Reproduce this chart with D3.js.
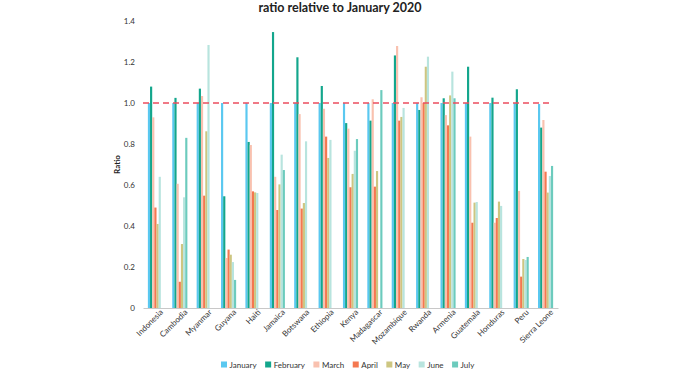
<!DOCTYPE html>
<html>
<head>
<meta charset="utf-8">
<script src="https://cdn.jsdelivr.net/npm/d3@7"></script>
<style>
  body { margin: 0; background: #fff; }
  text { font-family: Lato, "Open Sans", sans-serif; }
</style>
</head>
<body>
<div id="chart"></div>
<script>
// countries along the x axis
const countries = ["Indonesia", "Cambodia", "Myanmar", "Guyana", "Haiti", "Jamaica", "Botswana",
  "Ethiopia", "Kenya", "Madagascar", "Mozambique", "Rwanda", "Armenia", "Guatemala",
  "Honduras", "Peru", "Sierra Leone"];
const months = ["January", "February", "March", "April", "May", "June", "July"];
const monthColors = ["#5ac8f0", "#13a68c", "#f9c1af", "#f47850", "#cdc681", "#b8e4de", "#6ccbbd"];

// ratio to January, one array per month (null = no bar)
const january  = [1.0, 1.0, 1.0, 1.0, 1.0, 1.0, 1.0, 1.0, 1.0, 1.0, 1.0, 1.0, 1.0, 1.0, 1.0, 1.0, 0.995];
const february = [1.08, 1.025, 1.07, 0.545, 0.81, 1.346, 1.223, 1.083, 0.902, 0.914, 1.232, 0.966, 1.023, 1.177, 1.026, 1.067, 0.88];
const march    = [0.93, 0.606, 1.034, 0.244, 0.795, 0.64, 0.946, 0.972, 0.875, 1.018, 1.278, 1.028, 0.941, 0.836, 0.416, 0.571, 0.917];
const april    = [0.49, 0.128, 0.548, 0.285, 0.569, 0.478, 0.485, 0.836, 0.589, 0.592, 0.914, 1.0, 0.891, 0.416, 0.439, 0.153, 0.665];
const may      = [0.41, 0.312, 0.862, 0.26, 0.564, 0.603, 0.512, 0.732, 0.654, 0.668, 0.932, 1.177, 1.037, 0.514, 0.519, 0.239, 0.563];
const june     = [0.64, 0.54, 1.283, 0.224, 0.561, 0.748, 0.813, 0.82, 0.767, null, 0.976, 1.226, 1.153, 0.517, 0.498, 0.234, 0.644];
const july     = [null, 0.83, null, 0.137, null, 0.673, null, null, 0.824, 1.063, null, null, 1.023, null, null, 0.249, 0.693];
const series = [january, february, march, april, may, june, july];

const yTicks = [0, 0.2, 0.4, 0.6, 0.8, 1.0, 1.2, 1.4];

const width = 675, height = 375;
const margin = { top: 21, right: 117, bottom: 67, left: 143 };

const svg = d3.select("#chart").append("svg")
  .attr("width", width).attr("height", height);

const x = d3.scaleBand().domain(countries)
  .range([margin.left, width - margin.right])
  .paddingInner(0.38).paddingOuter(0.2);
const xm = d3.scaleBand().domain(months).range([0, x.bandwidth()]);
const y = d3.scaleLinear().domain([0, 1.4]).range([height - margin.bottom, margin.top]);

// title (sits right at the top edge, as in the source)
svg.append("text")
  .attr("x", 340).attr("y", 12)
  .attr("text-anchor", "middle")
  .style("font-size", "12.5px").style("font-weight", "bold").style("fill", "#222")
  .text("ratio relative to January 2020");

// y axis
const yAxis = svg.append("g")
  .attr("transform", `translate(${margin.left},0)`)
  .call(d3.axisLeft(y).tickValues(yTicks).tickSize(0).tickPadding(8)
    .tickFormat(d => d === 0 ? "0" : d3.format(".1f")(d)));
yAxis.select(".domain").remove();
yAxis.selectAll("text").style("font-size", "8px").style("fill", "#333")
  .style("font-family", "Lato, sans-serif");

svg.append("text")
  .attr("transform", `translate(120,${y(0.7)}) rotate(-90)`)
  .attr("text-anchor", "middle")
  .style("font-size", "8px").style("font-weight", "bold").style("fill", "#222")
  .text("Ratio");

// bars
const groups = svg.append("g").selectAll("g")
  .data(countries)
  .join("g")
  .attr("transform", d => `translate(${x(d)},0)`);

groups.selectAll("rect")
  .data((c, i) => series.map((s, m) => ({ month: months[m], color: monthColors[m], value: s[i] }))
    .filter(d => d.value != null))
  .join("rect")
  .attr("x", d => xm(d.month))
  .attr("width", xm.bandwidth())
  .attr("y", d => y(d.value))
  .attr("height", d => y(0) - y(d.value))
  .attr("fill", d => d.color);

// x axis
const xAxis = svg.append("g")
  .attr("transform", `translate(0,${y(0)})`)
  .call(d3.axisBottom(x).tickSize(0).tickSizeOuter(0).tickPadding(6));
xAxis.select(".domain").attr("stroke", "#c8c8c8");
xAxis.selectAll("text")
  .style("font-size", "8px").style("fill", "#333")
  .style("font-family", "Lato, sans-serif")
  .attr("text-anchor", "end")
  .attr("dx", "0.3em").attr("dy", "0.4em")
  .attr("transform", "rotate(-45)");

// reference line at 1.0
svg.append("line")
  .attr("x1", margin.left).attr("x2", 553)
  .attr("y1", y(1)).attr("y2", y(1))
  .attr("stroke", "#ec4d5f").attr("stroke-width", 1.5)
  .attr("stroke-dasharray", "6,4");

// legend
const legend = svg.append("g").attr("transform", "translate(221,365)");
let lx = 0;
months.forEach((m, i) => {
  const g = legend.append("g").attr("transform", `translate(${lx},0)`);
  g.append("rect").attr("x", 0).attr("y", -3.5).attr("width", 6).attr("height", 6)
    .attr("fill", monthColors[i]);
  const t = g.append("text").attr("x", 8.5).attr("y", 0).attr("dy", "0.33em")
    .style("font-size", "8px").style("fill", "#333").text(m);
  lx += 8.5 + t.node().getComputedTextLength() + 8.5;
});
</script>
</body>
</html>
